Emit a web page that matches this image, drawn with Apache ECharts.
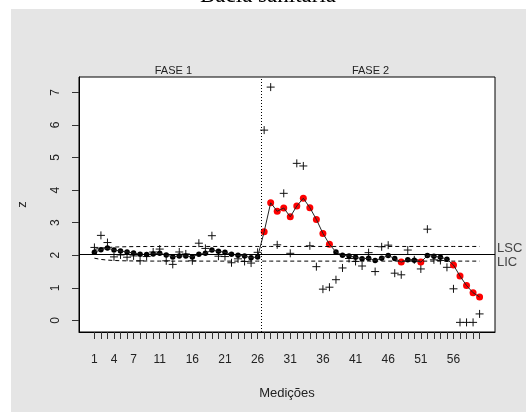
<!DOCTYPE html>
<html>
<head>
<meta charset="utf-8">
<script src="https://cdn.jsdelivr.net/npm/echarts@6/dist/echarts.min.js"></script>
<style>
  html, body { margin: 0; padding: 0; background: #fff; }
  #chart { width: 526px; height: 412px; }
</style>
</head>
<body>
<div id="chart"></div>
<script>
// Measurement index (1..60)
const medicoes = [1,2,3,4,5,6,7,8,9,10,11,12,13,14,15,16,17,18,19,20,
  21,22,23,24,25,26,27,28,29,30,31,32,33,34,35,36,37,38,39,40,
  41,42,43,44,45,46,47,48,49,50,51,52,53,54,55,56,57,58,59,60];

// Individual observations (drawn as "+")
const observacoes = [2.24,2.61,2.39,1.95,2.01,1.94,1.98,1.83,1.96,2.10,
  2.19,1.83,1.72,2.10,2.04,1.83,2.37,2.21,2.60,1.97,
  1.96,1.77,1.89,1.81,1.76,2.09,5.84,7.16,2.32,3.90,
  2.06,4.82,4.74,2.29,1.65,0.96,1.02,1.25,1.61,1.90,
  1.81,1.67,2.08,1.50,2.26,2.31,1.45,1.40,2.16,1.86,
  1.58,2.80,1.86,1.84,1.63,0.97,-0.06,-0.06,-0.06,0.20];

// EWMA statistic
const ewma = [2.09,2.17,2.22,2.16,2.13,2.10,2.07,2.03,2.02,2.04,
  2.06,2.01,1.95,1.98,1.98,1.95,2.03,2.06,2.16,2.12,
  2.09,2.03,2.00,1.98,1.92,1.95,2.72,3.61,3.35,3.45,
  3.18,3.51,3.75,3.46,3.10,2.67,2.34,2.10,2.00,1.98,
  1.94,1.89,1.91,1.84,1.91,1.99,1.90,1.79,1.86,1.85,
  1.79,1.99,1.97,1.94,1.88,1.70,1.36,1.07,0.85,0.72];

// Control limits
const lsc = [2.180,2.218,2.238,2.250,2.258,2.262,2.265,2.267,2.268,2.269,
  2.269,2.270,2.270,2.270,2.270,2.270,2.270,2.270,2.270,2.270,
  2.270,2.270,2.270,2.270,2.270,2.270,2.270,2.270,2.270,2.270,
  2.270,2.270,2.270,2.270,2.270,2.270,2.270,2.270,2.270,2.270,
  2.270,2.270,2.270,2.270,2.270,2.270,2.270,2.270,2.270,2.270,
  2.270,2.270,2.270,2.270,2.270,2.270,2.270,2.270,2.270,2.270];
const lic = [1.910,1.872,1.852,1.840,1.832,1.828,1.825,1.823,1.822,1.821,
  1.821,1.820,1.820,1.820,1.820,1.820,1.820,1.820,1.820,1.820,
  1.820,1.820,1.820,1.820,1.820,1.820,1.820,1.820,1.820,1.820,
  1.820,1.820,1.820,1.820,1.820,1.820,1.820,1.820,1.820,1.820,
  1.820,1.820,1.820,1.820,1.820,1.820,1.820,1.820,1.820,1.820,
  1.820,1.820,1.820,1.820,1.820,1.820,1.820,1.820,1.820,1.820];
const centro = 2.045;
const mudancaFase = 26.5;

// Axis tick labels
const xTickLabels = [1,4,7,11,16,21,26,31,36,41,46,51,56];
const yTickLabels = [0,1,2,3,4,5,6,7];

const fora = ewma.map((v, i) => v > lsc[i] || v < lic[i]);

const FONT = '"Liberation Sans", Arial, Helvetica, sans-serif';
const chart = echarts.init(document.getElementById('chart'), null, { renderer: 'canvas' });

chart.setOption({
  animation: false,
  backgroundColor: '#e5e5e5',
  grid: {
    left: 79, top: 77, width: 416, height: 255,
    show: true, backgroundColor: '#ffffff', borderColor: '#000', borderWidth: 1
  },
  xAxis: {
    type: 'value', min: -1.36, max: 62.36,
    splitLine: { show: false },
    axisLine: { show: true, onZero: false, lineStyle: { color: '#000', width: 1 } },
    axisTick: { show: true, customValues: medicoes, length: 7, lineStyle: { color: '#333' } },
    axisLabel: { customValues: xTickLabels, margin: 22, fontSize: 12, color: '#222', fontFamily: FONT },
    name: 'Medições', nameLocation: 'middle', nameGap: 55,
    nameTextStyle: { fontSize: 13, color: '#222', fontFamily: FONT }
  },
  yAxis: {
    type: 'value', min: -0.355, max: 7.47,
    splitLine: { show: false },
    axisLine: { show: true, onZero: false, lineStyle: { color: '#000', width: 1 } },
    axisTick: { show: true, customValues: yTickLabels, length: 7, lineStyle: { color: '#333' } },
    axisLabel: { customValues: yTickLabels, rotate: 90, margin: 17, fontSize: 12, color: '#222', fontFamily: FONT },
    name: 'z', nameLocation: 'middle', nameGap: 50, nameRotate: 90,
    nameTextStyle: { fontSize: 13, color: '#222', fontFamily: FONT }
  },
  series: [
    {
      name: 'LSC', type: 'line', data: medicoes.map((m, i) => [m, lsc[i]]),
      symbol: 'none', silent: true,
      lineStyle: { color: '#000', width: 1, type: [4, 3] },
      markLine: {
        silent: true, symbol: 'none', label: { show: false },
        data: [
          { yAxis: centro, lineStyle: { color: '#000', width: 1, type: 'solid' } },
          { xAxis: mudancaFase, lineStyle: { color: '#000', width: 1, type: [1, 2] } }
        ]
      }
    },
    {
      name: 'LIC', type: 'line', data: medicoes.map((m, i) => [m, lic[i]]),
      symbol: 'none', silent: true,
      lineStyle: { color: '#000', width: 1, type: [4, 3] }
    },
    {
      name: 'obs', type: 'scatter', data: medicoes.map((m, i) => [m, observacoes[i]]),
      symbol: 'path://M0,5L10,5M5,0L5,10', symbolSize: 8,
      itemStyle: { color: 'rgba(0,0,0,0)', borderColor: '#111', borderWidth: 1, opacity: 1 }
    },
    {
      name: 'ewma-linha', type: 'line', data: medicoes.map((m, i) => [m, ewma[i]]),
      symbol: 'none', silent: true,
      lineStyle: { color: '#222', width: 1 }
    },
    {
      name: 'ewma', type: 'scatter', data: medicoes.map((m, i) => [m, ewma[i]]),
      symbol: 'circle',
      symbolSize: (v, p) => fora[p.dataIndex] ? 7 : 5.5,
      itemStyle: { opacity: 1, color: p => fora[p.dataIndex] ? '#ff0000' : '#000000' }
    }
  ]
});

// Annotations placed from the axis scales
const px = (x, y) => chart.convertToPixel({ gridIndex: 0 }, [x, y]);
const topY = 71;
const f1 = px(13.1, 0)[0];
const f2 = px(43.3, 0)[0];
const yL = px(0, lsc[59])[1];
const yI = px(0, lic[59])[1];

chart.setOption({
  graphic: [
    { type: 'rect', shape: { x: 0, y: 0, width: 11, height: 412 }, style: { fill: '#fff' }, silent: true },
    { type: 'rect', shape: { x: 0, y: 0, width: 526, height: 9 }, style: { fill: '#fff' }, silent: true },
    { type: 'text', z: 10, silent: true, style: { text: 'Bacia sanitária', x: 268, y: -4, textAlign: 'center', textVerticalAlign: 'middle', font: '23px "Liberation Serif", "Times New Roman", serif', fill: '#000' } },
    { type: 'text', silent: true, style: { text: 'FASE 1', x: f1, y: topY, textAlign: 'center', textVerticalAlign: 'middle', font: '11px ' + FONT, fill: '#222' } },
    { type: 'text', silent: true, style: { text: 'FASE 2', x: f2, y: topY, textAlign: 'center', textVerticalAlign: 'middle', font: '11px ' + FONT, fill: '#222' } },
    { type: 'text', silent: true, style: { text: 'LSC', x: 497, y: yL + 2, textAlign: 'left', textVerticalAlign: 'middle', font: '13px ' + FONT, fill: '#444' } },
    { type: 'text', silent: true, style: { text: 'LIC', x: 497, y: yI + 1, textAlign: 'left', textVerticalAlign: 'middle', font: '13px ' + FONT, fill: '#444' } }
  ]
});
</script>
</body>
</html>
